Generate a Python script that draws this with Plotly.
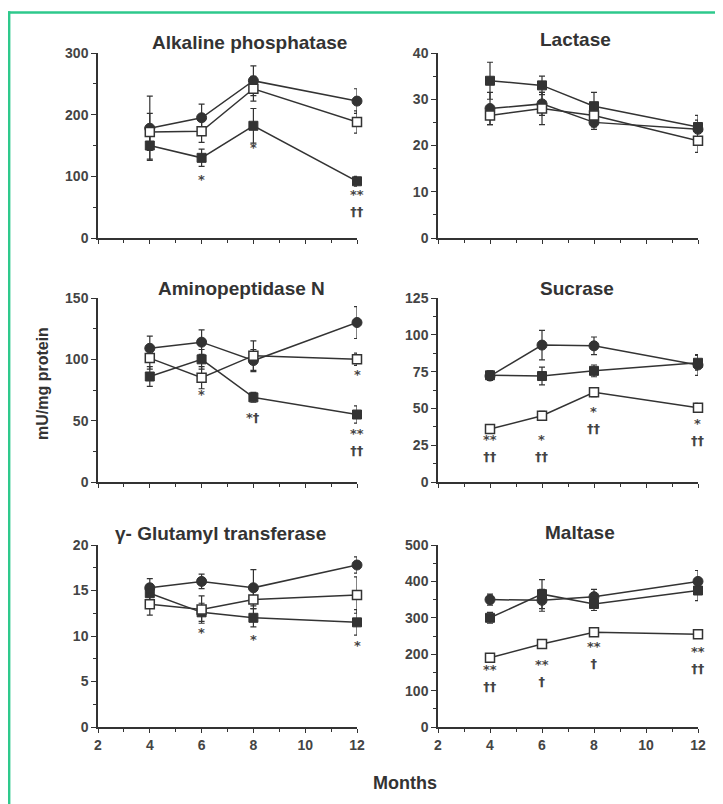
import plotly.graph_objects as go

months = [4, 6, 8, 12]

panels = ["Alkaline phosphatase", "Lactase", "Aminopeptidase N", "Sucrase",
          "γ- Glutamyl transferase", "Maltase"]

# Series A: filled circles, Series B: filled squares, Series C: open squares
alk_a = [178, 195, 255, 222]
alk_a_err = [52, 22, 24, 20]
alk_b = [150, 130, 182, 92]
alk_b_err = [22, 14, 28, 8]
alk_c = [172, 173, 242, 188]
alk_c_err = [30, 18, 20, 18]

lac_a = [28, 29, 25, 23.5]
lac_a_err = [3.5, 2.5, 1.5, 2]
lac_b = [34, 33, 28.5, 24]
lac_b_err = [4, 2, 3, 2.5]
lac_c = [26.5, 28, 26.5, 21]
lac_c_err = [2, 3.5, 2.5, 2.5]

ami_a = [109, 114, 99, 130]
ami_a_err = [10, 10, 9, 13]
ami_b = [86, 100, 69, 55]
ami_b_err = [8, 8, 4, 7]
ami_c = [101, 85, 103, 100]
ami_c_err = [9, 9, 12, 5]

suc_a = [72, 93, 92.5, 79.5]
suc_a_err = [3, 10, 6, 7]
suc_b = [72.5, 72, 75.5, 81]
suc_b_err = [3, 6, 4, 5]
suc_c = [36, 45, 61, 50.5]
suc_c_err = [2, 3, 3, 3]

ggt_a = [15.3, 16, 15.3, 17.8]
ggt_a_err = [1, 0.8, 2, 0.9]
ggt_b = [14.7, 12.6, 12, 11.5]
ggt_b_err = [1, 1, 1, 1.4]
ggt_c = [13.5, 12.9, 14, 14.5]
ggt_c_err = [1.2, 1.5, 1, 2]

mal_a = [350, 348, 358, 400]
mal_a_err = [15, 30, 20, 30]
mal_b = [300, 365, 338, 375]
mal_b_err = [15, 40, 18, 28]
mal_c = [190, 228, 260, 255]
mal_c_err = [8, 10, 8, 10]

# significance labels per panel: (month, value at label centre, label)
alk_sig = [(6, 100, "*"), (8, 151, "*"), (12, 56, "**<br>††")]
lac_sig = []
ami_sig = [(6, 74, "*"), (8, 55, "*†"), (12, 90, "*"), (12, 33, "**<br>††")]
suc_sig = [(4, 23, "**<br>††"), (6, 23, "*<br>††"), (8, 42, "*<br>††"),
           (12, 34, "*<br>††")]
ggt_sig = [(6, 10.7, "*"), (8, 10, "*"), (12, 9.3, "*")]
mal_sig = [(4, 136, "**<br>††"), (6, 149, "**<br>†"), (8, 197, "**<br>†"),
           (12, 184, "**<br>††")]

y_max = [300, 40, 150, 125, 20, 500]
y_dtick = [100, 10, 50, 25, 5, 100]
y_minor = [50, 5, 25, 12.5, 2.5, 50]
x_ticks = [2, 4, 6, 8, 10, 12]

data = [
    (alk_a, alk_a_err, alk_b, alk_b_err, alk_c, alk_c_err, alk_sig),
    (lac_a, lac_a_err, lac_b, lac_b_err, lac_c, lac_c_err, lac_sig),
    (ami_a, ami_a_err, ami_b, ami_b_err, ami_c, ami_c_err, ami_sig),
    (suc_a, suc_a_err, suc_b, suc_b_err, suc_c, suc_c_err, suc_sig),
    (ggt_a, ggt_a_err, ggt_b, ggt_b_err, ggt_c, ggt_c_err, ggt_sig),
    (mal_a, mal_a_err, mal_b, mal_b_err, mal_c, mal_c_err, mal_sig),
]

# page has an 8px body margin; figure is sized to fill the rest of the window
OFF = 8
W, H = 723 - OFF, 804 - OFF


def px(xs):
    return (xs - OFF) / W


def py(ys):
    return 1 - (ys - OFF) / H


# layout positions in window pixels
col_px = [(98, 357), (438, 698)]
row_px = [(53, 238), (298, 482), (545, 727)]
title_px = [(249, 42), (575, 40), (241, 288), (577, 288), (220, 533), (580, 532)]

INK = "#333333"
FONT = "Liberation Sans, Arial, sans-serif"
SIGFONT = "DejaVu Sans, sans-serif"

fig = go.Figure()
annotations = []

for i, (a, ae, b, be, c, ce, sig) in enumerate(data):
    r, cidx = divmod(i, 2)
    n = i + 1
    xa = "x" if n == 1 else f"x{n}"
    ya = "y" if n == 1 else f"y{n}"
    x0, x1 = col_px[cidx]
    ytop, ybot = row_px[r]
    xdom = [px(x0), px(x1)]
    ydom = [py(ybot), py(ytop)]

    series = [
        (a, ae, dict(symbol="circle", size=10, color=INK, line=dict(color=INK, width=1))),
        (b, be, dict(symbol="square", size=9, color=INK, line=dict(color=INK, width=1))),
        (c, ce, dict(symbol="square", size=9, color="white", line=dict(color=INK, width=1.5))),
    ]
    for vals, errs, mk in series:
        fig.add_trace(go.Scatter(
            x=months, y=vals, mode="lines+markers",
            line=dict(color=INK, width=1.5), marker=mk,
            error_y=dict(type="data", array=errs, visible=True, color=INK,
                         thickness=1.2, width=3),
            xaxis=xa, yaxis=ya, showlegend=False, cliponaxis=False,
        ))

    xkey = "xaxis" if n == 1 else f"xaxis{n}"
    ykey = "yaxis" if n == 1 else f"yaxis{n}"
    fig.layout[xkey] = dict(
        domain=xdom, anchor=ya, range=[2, 12], tickvals=x_ticks,
        showticklabels=(r == 2), ticks="outside", ticklen=4, tickwidth=1.2,
        tickcolor=INK, showline=True, linecolor=INK, linewidth=1.5,
        showgrid=False, zeroline=False, automargin=False,
        tickfont=dict(family=FONT, size=14, color="#444", weight="bold"),
        minor=dict(dtick=1, tick0=2, ticks="outside", ticklen=3, tickcolor=INK, showgrid=False),
    )
    fig.layout[ykey] = dict(
        domain=ydom, anchor=xa, range=[0, y_max[i]], dtick=y_dtick[i], tick0=0,
        ticks="outside", ticklen=5, tickwidth=1.2, tickcolor=INK,
        showline=True, linecolor=INK, linewidth=1.5, showgrid=False,
        zeroline=False, automargin=False,
        tickfont=dict(family=FONT, size=14, color="#444", weight="bold"),
        minor=dict(dtick=y_minor[i], tick0=0, ticks="outside", ticklen=3,
                   tickcolor=INK, showgrid=False),
    )

    tx, ty = title_px[i]
    annotations.append(dict(
        text=panels[i], x=px(tx), y=py(ty), xref="paper", yref="paper",
        showarrow=False, yanchor="middle", xanchor="center",
        font=dict(family=FONT, size=19, color=INK, weight="bold"),
    ))
    for mx, my, lab in sig:
        annotations.append(dict(
            text=lab, x=mx, y=my, xref=xa, yref=ya, showarrow=False,
            xanchor="center", yanchor="middle",
            yshift=-3 if lab.startswith("*") and "<br>" not in lab else 0,
            borderpad=0,
            font=dict(family=SIGFONT, size=13, color="#444", weight="bold"),
        ))

annotations.append(dict(
    text="mU/mg protein", x=px(42), y=py(384), xref="paper", yref="paper",
    showarrow=False, textangle=-90, xanchor="center", yanchor="middle",
    font=dict(family=FONT, size=16, color=INK, weight="bold"),
))
annotations.append(dict(
    text="Months", x=px(405), y=py(783), xref="paper", yref="paper",
    showarrow=False, xanchor="center", yanchor="middle",
    font=dict(family=FONT, size=18, color=INK, weight="bold"),
))

border = "#2ec98c"
shapes = [
    dict(type="line", xref="paper", yref="paper", x0=px(8), x1=1.0,
         y0=py(12.5), y1=py(12.5), line=dict(color=border, width=2.4)),
    dict(type="line", xref="paper", yref="paper", x0=px(9.2), x1=px(9.2),
         y0=0, y1=py(11.3), line=dict(color=border, width=2.4)),
]

fig.update_layout(
    width=W, height=H, margin=dict(l=0, r=0, t=0, b=0),
    paper_bgcolor="white", plot_bgcolor="white",
    annotations=annotations, shapes=shapes, showlegend=False,
    template="none",
)

fig.write_html("out.html")
